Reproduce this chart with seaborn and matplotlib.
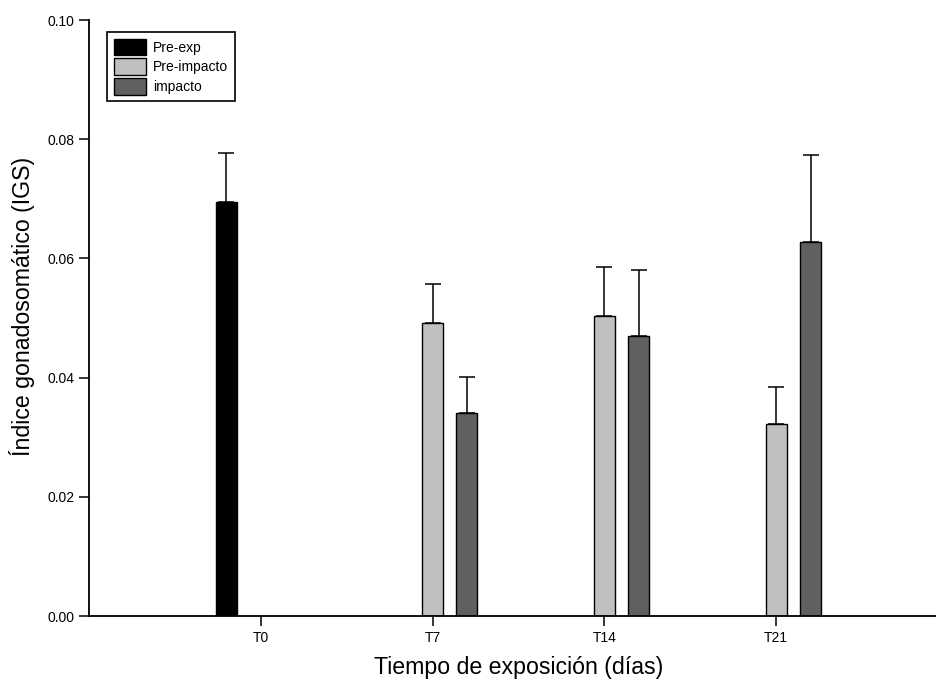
import matplotlib
matplotlib.use("Agg")
import matplotlib.pyplot as plt
import seaborn as sns
import pandas as pd

# ---- data ----
tiempos = ["T0", "T7", "T14", "T21"]
grupos = ["Pre-exp", "Pre-impacto", "impacto"]
colores = ["#000000", "#c0c0c0", "#606060"]

pre_exp_val = [0.0694]
pre_exp_err = [0.0083]
pre_exp_t = ["T0"]

pre_imp_val = [0.0492, 0.0503, 0.0322]
pre_imp_err = [0.0065, 0.0083, 0.0062]
pre_imp_t = ["T7", "T14", "T21"]

imp_val = [0.0341, 0.0469, 0.0628]
imp_err = [0.0060, 0.0112, 0.0145]
imp_t = ["T7", "T14", "T21"]

rows = []
for g, ts, vs, es in [("Pre-exp", pre_exp_t, pre_exp_val, pre_exp_err),
                      ("Pre-impacto", pre_imp_t, pre_imp_val, pre_imp_err),
                      ("impacto", imp_t, imp_val, imp_err)]:
    for t, v, e in zip(ts, vs, es):
        rows.append({"tiempo": t, "grupo": g, "valor": v, "err": e})
df = pd.DataFrame(rows)

sns.set_style("ticks")
plt.rcParams["font.family"] = ["Liberation Sans", "DejaVu Sans"]
plt.rcParams["text.color"] = "black"
plt.rcParams["axes.labelcolor"] = "black"

fig = plt.figure(figsize=(9.37, 6.83), dpi=100)
ax = fig.add_axes([89 / 937, 1 - 616 / 683, (948 - 89) / 937, (616 - 20) / 683])

sns.barplot(data=df, x="tiempo", y="valor", hue="grupo", order=tiempos,
            hue_order=grupos, palette=colores, width=0.6, gap=0.39,
            errorbar=None, edgecolor="black", linewidth=1.0, ax=ax,
            saturation=1)

# upper-only error bars
for cont, g in zip(ax.containers, grupos):
    sub = df[df.grupo == g]
    for bar, (_, r) in zip(cont, sub.iterrows()):
        xc = bar.get_x() + bar.get_width() / 2
        ax.errorbar(xc, bar.get_height(), yerr=[[0], [r["err"]]], fmt="none",
                    ecolor="black", elinewidth=1.1, capsize=5.8,
                    capthick=1.1, zorder=1)

ax.set_xlim(-1.0, 4.0)
ax.set_ylim(0, 0.10)
ax.set_yticks([0.00, 0.02, 0.04, 0.06, 0.08, 0.10])
ax.set_yticklabels(["0.00", "0.02", "0.04", "0.06", "0.08", "0.10"])
ax.tick_params(axis="both", labelsize=10, direction="out", length=7,
               width=1.1, color="black", labelcolor="black")
for s in ["top", "right"]:
    ax.spines[s].set_visible(False)
for s in ["left", "bottom"]:
    ax.spines[s].set_linewidth(1.3)
    ax.spines[s].set_color("black")

ax.set_xlabel("Tiempo de exposición (días)", fontsize=16.7, labelpad=8,
              color="black")
ax.set_ylabel("Índice gonadosomático (IGS)", fontsize=16.7, color="black")
ax.yaxis.set_label_coords(-0.063, 0.52)

leg = ax.legend(loc="upper left", bbox_to_anchor=(18 / 859, 1 - 12 / 596),
                fontsize=10, frameon=True, fancybox=False,
                handlelength=2.3, handleheight=1.45, handletextpad=0.5,
                labelspacing=0.22, borderpad=0.5, borderaxespad=0)
leg.get_frame().set_edgecolor("black")
leg.get_frame().set_linewidth(1.2)
leg.get_frame().set_alpha(1)
for t in leg.get_texts():
    t.set_color("black")

fig.savefig("out.png", dpi=100)
